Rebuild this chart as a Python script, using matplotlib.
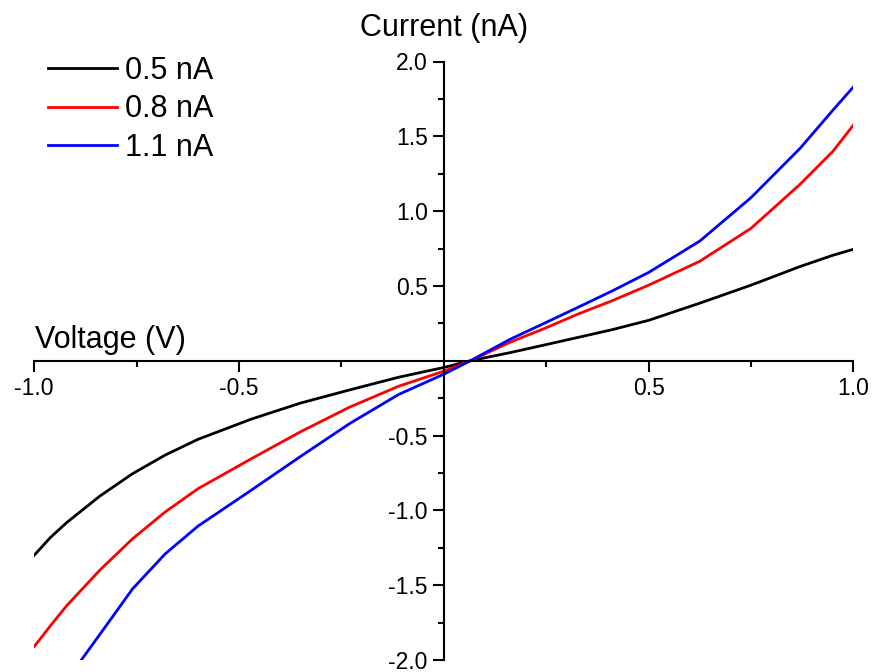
import matplotlib
matplotlib.use("Agg")
import matplotlib.pyplot as plt
from matplotlib.ticker import FixedLocator, FormatStrFormatter

plt.rcParams['font.family'] = ['Liberation Sans', 'DejaVu Sans']

# ---- data ----
x_main = [-1.0, -0.96, -0.92, -0.84, -0.76, -0.68, -0.60, -0.47, -0.35, -0.23, -0.11,
          0.0, 0.065, 0.163, 0.245, 0.326, 0.41, 0.50, 0.625, 0.75, 0.87, 0.95, 1.0]
i_05 = [-1.30, -1.18, -1.08, -0.905, -0.755, -0.630, -0.525, -0.39, -0.283, -0.195, -0.11,
        -0.045, 0.0, 0.055, 0.105, 0.155, 0.207, 0.27, 0.385, 0.505, 0.63, 0.705, 0.745]
i_08 = [-1.91, -1.77, -1.635, -1.40, -1.19, -1.01, -0.855, -0.655, -0.475, -0.31, -0.17,
        -0.07, 0.0, 0.125, 0.215, 0.31, 0.40, 0.505, 0.665, 0.885, 1.18, 1.40, 1.575]
x_11 = [-0.885, -0.84, -0.76, -0.68, -0.60, -0.47, -0.35, -0.23, -0.11,
        0.0, 0.065, 0.163, 0.245, 0.326, 0.41, 0.50, 0.625, 0.75, 0.87, 0.95, 1.0]
i_11 = [-2.0, -1.83, -1.525, -1.29, -1.105, -0.865, -0.64, -0.42, -0.225,
        -0.09, 0.0, 0.145, 0.25, 0.355, 0.465, 0.59, 0.80, 1.09, 1.42, 1.675, 1.83]

labels = ['0.5 nA', '0.8 nA', '1.1 nA']
colors = ['#000000', '#ff0000', '#0000ff']

x_major = [-1.0, -0.5, 0.5, 1.0]
x_minor = [-0.75, -0.25, 0.25, 0.75]
y_major = [-2.0, -1.5, -1.0, -0.5, 0.5, 1.0, 1.5, 2.0]
y_minor = [-1.75, -1.25, -0.75, -0.25, 0.25, 0.75, 1.25, 1.75]

W, H = 873, 672
fig = plt.figure(figsize=(W / 100, H / 100), dpi=100)
ax = fig.add_axes([34.2 / W, (H - 660.0) / H, 819.2 / W, 598.5 / H])

ax.plot(x_main, i_05, color=colors[0], lw=2.0, label=labels[0])
ax.plot(x_main, i_08, color=colors[1], lw=2.0, label=labels[1])
ax.plot(x_11, i_11, color=colors[2], lw=2.0, label=labels[2])

ax.set_xlim(-1.0, 1.0)
ax.set_ylim(-2.0, 2.0)

for s in ['top', 'right']:
    ax.spines[s].set_visible(False)
ax.spines['left'].set_position(('data', 0))
ax.spines['bottom'].set_position(('data', 0))
for s in ['left', 'bottom']:
    ax.spines[s].set_linewidth(1.5)

ax.xaxis.set_major_locator(FixedLocator(x_major))
ax.xaxis.set_minor_locator(FixedLocator(x_minor))
ax.yaxis.set_major_locator(FixedLocator(y_major))
ax.yaxis.set_minor_locator(FixedLocator(y_minor))
ax.xaxis.set_major_formatter(FormatStrFormatter('%.1f'))
ax.yaxis.set_major_formatter(FormatStrFormatter('%.1f'))

ax.tick_params(axis='both', which='major', direction='out', length=8, width=1.5,
               labelsize=16.5, pad=3.5)
ax.tick_params(axis='both', which='minor', direction='out', length=4, width=1.5)

fig.text(35 / W, (H - 348) / H, 'Voltage (V)', fontsize=22, ha='left', va='baseline')
fig.text(444 / W, (H - 36) / H, 'Current (nA)', fontsize=22, ha='center', va='baseline')

leg = ax.legend(loc='upper left', bbox_to_anchor=(48 / W, 1 - 56 / H),
                bbox_transform=fig.transFigure, frameon=False, fontsize=22,
                handlelength=2.25, handletextpad=0.26, labelspacing=0.27,
                borderpad=0, borderaxespad=0)

fig.savefig('out.png', dpi=100)
